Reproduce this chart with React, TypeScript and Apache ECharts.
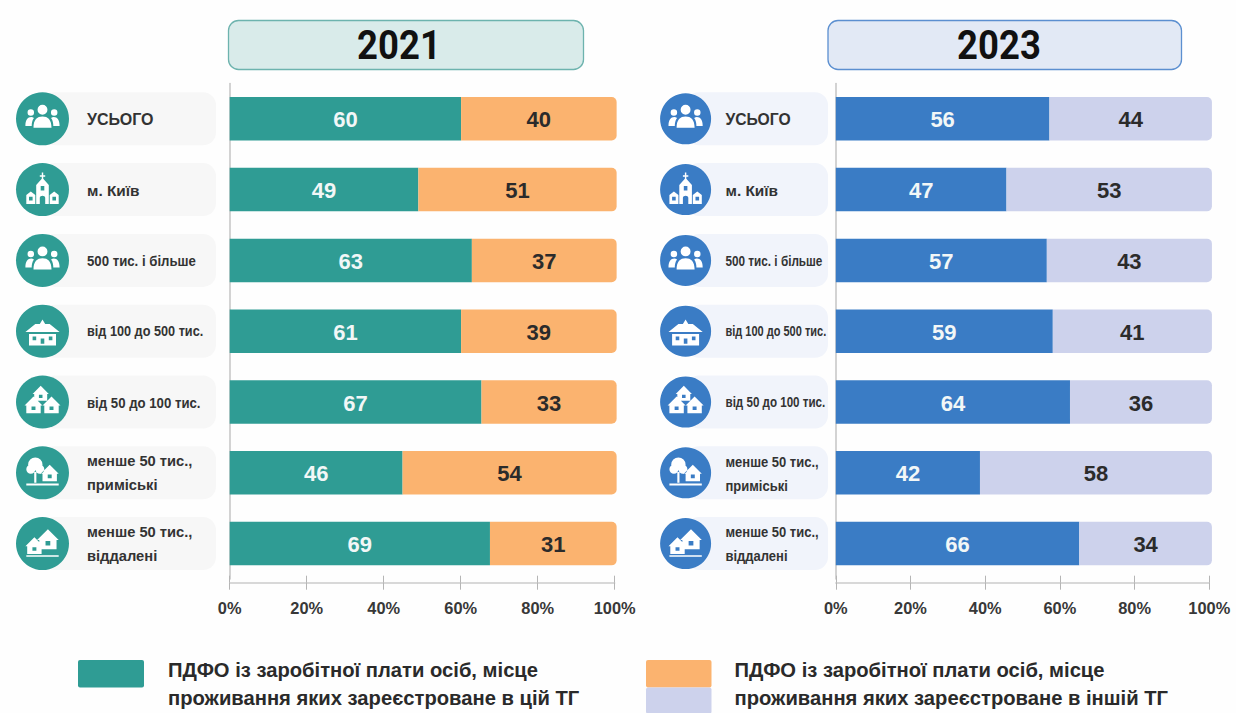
import React, { useEffect, useRef } from "react";
import * as echarts from "echarts";

const categories = ["УСЬОГО", "м. Київ", "500 тис. і більше", "від 100 до 500 тис.", "від 50 до 100 тис.", "менше 50 тис.,\nприміські", "менше 50 тис.,\nвіддалені"];
const iconKeys = ["ic_people", "ic_church", "ic_people", "ic_bighouse", "ic_threehouses", "ic_treehouse", "ic_twohouses"];

// Printed labels
const printedOwn2021 = [60, 49, 63, 61, 67, 46, 69];
const printedOther2021 = [40, 51, 37, 39, 33, 54, 31];
const printedOwn2023 = [56, 47, 57, 59, 64, 42, 66];
const printedOther2023 = [44, 53, 43, 41, 36, 58, 34];

// Bar lengths as drawn in the picture, read against the axis
const barOwn2021 = [60.1, 49, 62.9, 60.1, 65.4, 44.9, 67.6];
const barOther2021 = [40.4, 51.5, 37.6, 40.4, 35.1, 55.6, 32.9];
const barOwn2023 = [57.2, 45.7, 56.5, 58.1, 62.7, 38.6, 65.2];
const barOther2023 = [43.5, 55, 44.2, 42.6, 38, 62.1, 35.5];

const legendOwn = ["ПДФО із заробітної плати осіб, місце", "проживання яких зареєстроване в цій ТГ"];
const legendOther = ["ПДФО із заробітної плати осіб, місце", "проживання яких зареєстроване в іншій ТГ"];

const TEAL = "#2f9c94";
const ORANGE = "#fbb36f";
const BLUE = "#3a7cc5";
const LAVENDER = "#cdd2ec";
const FONT = "'Liberation Sans', Arial, sans-serif";

const circ = (x: number, y: number, r: number) =>
  `M${x - r} ${y}A${r} ${r} 0 1 0 ${x + r} ${y}A${r} ${r} 0 1 0 ${x - r} ${y}Z`;
const house = (x: number, y: number, s: number) =>
  `M${x} ${y - s}L${x + s} ${y}L${x + s * 0.8} ${y}L${x + s * 0.8} ${y + s * 0.85}L${x - s * 0.8} ${y + s * 0.85}L${x - s * 0.8} ${y}L${x - s} ${y}Z` +
  `M${x - s * 0.22} ${y + s * 0.1}L${x - s * 0.22} ${y + s * 0.5}L${x + s * 0.22} ${y + s * 0.5}L${x + s * 0.22} ${y + s * 0.1}Z`;

const ICONS: Record<string, string> = {
  ic_people:
    circ(20, 10, 5.5) + "M10 30C10 21 14 17.5 20 17.5C26 17.5 30 21 30 30Z" +
    circ(7, 13, 3.6) + "M1 28C1 21 3.5 18 7.5 18C8.5 18 9.5 18.3 10.5 19C8.5 21.5 8 25 8 28Z" +
    circ(33, 13, 3.6) + "M39 28C39 21 36.5 18 32.5 18C31.5 18 30.5 18.3 29.5 19C31.5 21.5 32 25 32 28Z",
  ic_church:
    "M19.2 1H20.8V4H23V5.6H20.8V8L27 15V36H23V29C23 26 17 26 17 29V36H13V15L19.2 8V5.6H17V4H19.2Z" +
    "M18 16V21H22V16Z" +
    "M2 36V26L7 22L12 26V36ZM5 28V32H9V28Z" +
    "M28 36V26L33 22L38 26V36ZM31 28V32H35V28Z",
  ic_bighouse:
    "M1 21L12 12H17L20 7L23 12H28L39 21Z" +
    "M5 23H35V36H5ZM9 26V30H13V26ZM18 28V34H22V28ZM27 26V30H31V26Z",
  ic_threehouses:
    house(18, 11, 9) + house(10, 24, 10) + house(30, 24, 10),
  ic_treehouse:
    circ(12, 11, 8) + "M10.8 17H13.2V31H10.8Z" + circ(7, 16, 5) + circ(17, 16, 5) +
    house(28, 21, 10) + "M2 32H38V34H2Z",
  ic_twohouses:
    house(26, 16, 12) + house(11, 23, 10) + "M2 33H38V34.5H2Z",
};
Object.keys(ICONS).forEach((k) => {
  echarts.graphic.registerShape(k, echarts.graphic.extendPath(ICONS[k], {}));
});

const GRID_TOP = 83.4;
const GRID_H = 495.6;
const BAND = GRID_H / 7;
const AXIS_OFFSET = 3.7;

const labelSizes = [16, 15.4, 14.5, 14, 14.5, 15, 15];
const leftSqueeze = [1, 1, 0.91, 0.907, 0.91, 0.98, 0.98];
const rightSqueeze = [0.98, 1, 0.81, 0.786, 0.8, 0.867, 0.867];

function panel(cfg: any, gi: number) {
  const xa = gi * 2;
  const axisBase = { gridIndex: gi, type: "value", min: 0, max: 100, interval: 20, position: "bottom", offset: AXIS_OFFSET, splitLine: { show: false } };
  return {
    grid: { left: cfg.x0, width: cfg.w, top: GRID_TOP, height: GRID_H, containLabel: false },
    xAxis: [
      {
        ...axisBase,
        axisLine: { show: true, lineStyle: { color: "#cbcbcb", width: 1.5 } },
        axisTick: { show: true, length: 7, lineStyle: { color: "#b5b5b5", width: 1 } },
        axisLabel: { margin: 17, color: "#383838", fontFamily: FONT, fontWeight: "bold", fontSize: 16.4, formatter: "{value}%", hideOverlap: false },
      },
      {
        ...axisBase,
        axisLine: { show: false },
        axisTick: { show: true, inside: true, length: 7, lineStyle: { color: "#b5b5b5", width: 1 } },
        axisLabel: { show: false },
      },
    ],
    yAxis: {
      gridIndex: gi,
      type: "category",
      inverse: true,
      data: categories,
      axisLine: { show: true, lineStyle: { color: "#c4c4c4", width: 1.5 } },
      axisTick: { show: false },
      axisLabel: { show: false },
    },
    series: [
      {
        type: "bar",
        name: cfg.name + " цій",
        stack: "s" + gi,
        xAxisIndex: xa,
        yAxisIndex: gi,
        data: cfg.own,
        barWidth: 43.5,
        clip: false,
        itemStyle: { color: cfg.colorOwn },
        label: {
          show: true,
          position: "inside",
          offset: [0, 1],
          color: "#f2f7f7",
          fontFamily: FONT,
          fontWeight: "bold",
          fontSize: 22,
          formatter: (p: any) => String(cfg.printedOwn[p.dataIndex]),
        },
      },
      {
        type: "bar",
        name: cfg.name + " іншій",
        stack: "s" + gi,
        xAxisIndex: xa,
        yAxisIndex: gi,
        data: cfg.other,
        barWidth: 43.5,
        clip: false,
        itemStyle: { color: cfg.colorOther, borderRadius: [0, 5, 5, 0] },
        label: {
          show: true,
          position: "inside",
          offset: [0, 1],
          color: "#2b2b2b",
          fontFamily: FONT,
          fontWeight: "bold",
          fontSize: 22,
          formatter: (p: any) => String(cfg.printedOther[p.dataIndex]),
        },
      },
    ],
  };
}

function sideGraphics(cfg: any) {
  const out: any[] = [];
  categories.forEach((cat, i) => {
    const cy = GRID_TOP + BAND * (i + 0.5);
    out.push({
      type: "rect",
      z: 0,
      shape: { x: cfg.pillX, y: cy - 26.5, width: cfg.pillR - cfg.pillX, height: 53, r: 13 },
      style: { fill: cfg.pillFill },
    });
    out.push({
      type: "circle",
      z: 1,
      shape: { cx: cfg.cx, cy, r: cfg.r },
      style: { fill: cfg.colorOwn },
    });
    out.push({
      type: iconKeys[i],
      z: 2,
      x: cfg.cx - 18,
      y: cy - 18,
      scaleX: 0.9,
      scaleY: 0.9,
      style: { fill: "#ffffff" },
    });
    const lines = cat.split("\n");
    lines.forEach((t, k) => {
      out.push({
        type: "text",
        z: 3,
        x: cfg.labelX,
        y: cy + 0.5 + (k - (lines.length - 1) / 2) * 24,
        scaleX: cfg.squeeze[i],
        style: { text: t, fontFamily: FONT, fontWeight: "bold", fontSize: labelSizes[i], fill: "#333333", align: "left", verticalAlign: "middle" },
      });
    });
  });
  out.push({
    type: "rect",
    z: 0,
    shape: { x: cfg.boxX, y: 20.5, width: cfg.boxW, height: 49, r: 10 },
    style: { fill: cfg.boxFill, stroke: cfg.boxStroke, lineWidth: 1.3 },
  });
  out.push({
    type: "text",
    z: 3,
    x: cfg.titleX,
    y: 45,
    scaleY: 1.12,
    style: {
      text: cfg.name,
      fontFamily: "Roboto, sans-serif",
      fontWeight: "bold",
      fontSize: 36.5,
      fill: "#111111",
      align: "center",
      verticalAlign: "middle",
    },
  });
  return out;
}

const legendText = (x: number, lines: string[]) =>
  lines.map((t, i) => ({
    type: "text",
    z: 3,
    x,
    y: 670 + i * 28,
    style: { text: t, fontFamily: FONT, fontWeight: "bold", fontSize: 20.2, fill: "#2a2a2a", align: "left", verticalAlign: "middle" },
  }));

export default function App() {
  const ref = useRef<HTMLDivElement>(null);
  useEffect(() => {
    const chart = echarts.init(ref.current!, undefined, { renderer: "svg" });
    const left = {
      name: "2021", x0: 229.7, w: 385, labelX: 87, squeeze: leftSqueeze,
      own: barOwn2021, other: barOther2021, printedOwn: printedOwn2021, printedOther: printedOther2021,
      colorOwn: TEAL, colorOther: ORANGE,
      pillX: 42, pillR: 216, pillFill: "#f7f7f7", cx: 42.5, r: 26.5,
      boxX: 228.5, boxW: 355, boxFill: "#d9ebea", boxStroke: "#6db3ae", titleX: 399,
    };
    const right = {
      name: "2023", x0: 835.8, w: 373.5, labelX: 725.5, squeeze: rightSqueeze,
      own: barOwn2023, other: barOther2023, printedOwn: printedOwn2023, printedOther: printedOther2023,
      colorOwn: BLUE, colorOther: LAVENDER,
      pillX: 686, pillR: 828, pillFill: "#f1f4fb", cx: 685.6, r: 25.5,
      boxX: 828, boxW: 353.5, boxFill: "#e2e9f5", boxStroke: "#5b8fd0", titleX: 999,
    };
    const a = panel(left, 0);
    const b = panel(right, 1);
    chart.setOption({
      animation: false,
      backgroundColor: "#fefefe",
      grid: [a.grid, b.grid],
      xAxis: [...a.xAxis, ...b.xAxis],
      yAxis: [a.yAxis, b.yAxis],
      series: [...a.series, ...b.series],
      graphic: [
        ...sideGraphics(left),
        ...sideGraphics(right),
        { type: "rect", shape: { x: 78, y: 660, width: 66, height: 27.5, r: 2 }, style: { fill: TEAL } },
        { type: "rect", shape: { x: 646, y: 660, width: 65.5, height: 27.5, r: 2 }, style: { fill: ORANGE } },
        { type: "rect", shape: { x: 646, y: 687.5, width: 65.5, height: 26, r: 2 }, style: { fill: LAVENDER } },
        ...legendText(168, legendOwn),
        ...legendText(734.5, legendOther),
      ],
    });
    return () => chart.dispose();
  }, []);
  return <div ref={ref} style={{ position: "fixed", left: 0, top: 0, width: 1236, height: 713 }} />;
}
